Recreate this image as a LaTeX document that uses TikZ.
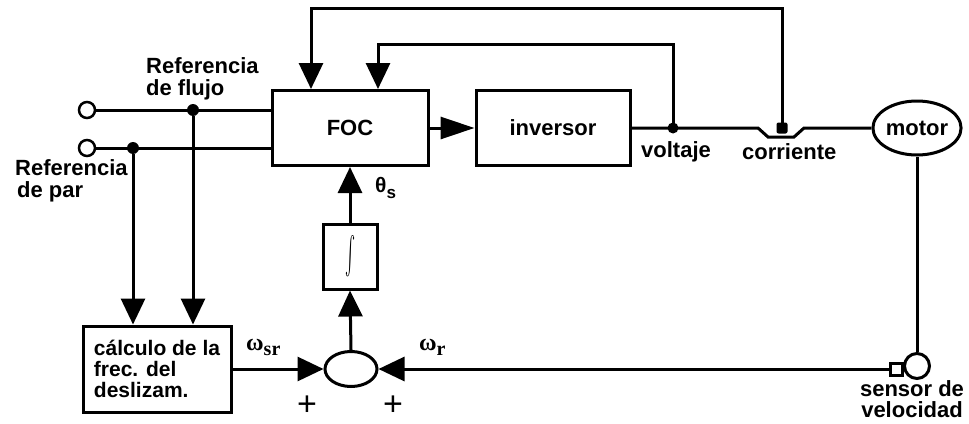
\documentclass[tikz,border=0pt]{standalone}
\usepackage{fontspec}
\usepackage{graphicx}
\setmainfont{Liberation Sans}
\newfontfamily\grkserif{Liberation Serif}
\usetikzlibrary{arrows.meta,calc,shapes.geometric}
\begin{document}
\begin{tikzpicture}[x=1pt,y=-1pt,
  every node/.style={font=\fontsize{22}{22}\selectfont\bfseries},
  ln/.style={line width=3pt},
  arr/.style={ln,-{Triangle[length=26pt,width=24pt]}},
  blk/.style={draw,ln,rectangle,inner sep=0pt},
  dotc/.style={circle,fill,inner sep=0pt,minimum size=12pt},
  term/.style={circle,draw,line width=2.5pt,fill=white,inner sep=0pt,minimum size=16pt},
  lbl/.style={inner sep=0pt,anchor=base west},
  omg/.style={inner sep=0pt,anchor=base west,font=\fontsize{24}{24}\selectfont\grkserif\bfseries},
  plus/.style={inner sep=0pt,font=\fontsize{34}{34}\selectfont\mdseries},
]
\useasboundingbox (0,0) rectangle (969,423);

% blocks
\node[blk,minimum width=156pt,minimum height=75pt] (foc) at (350,128) {FOC};
\node[blk,minimum width=154pt,minimum height=75pt] (inv) at (553,128) {inversor};
\node[draw,ln,ellipse,inner sep=0pt,minimum width=76pt,minimum height=54pt] (mot) at (917,128) {motor};
\node[blk,minimum width=148pt,minimum height=86pt,align=left,font=\fontsize{21}{21}\selectfont\bfseries] (calc) at (157,369) {cálculo de la\\frec. del\\deslizam.};
\node[blk,minimum width=54pt,minimum height=65pt] (integ) at (350,256.5) {\resizebox{10pt}{40pt}{$\int$}};
\node[draw,ln,ellipse,inner sep=0pt,minimum width=52pt,minimum height=35pt] (sum) at (351,369) {};
\node[draw,ln,circle,inner sep=0pt,minimum size=25pt] (sen) at (917,366) {};
\node[draw,ln,rectangle,inner sep=0pt,minimum width=12pt,minimum height=12pt,anchor=east] (sq) at ($(sen.west |- 0,369)+(1,0)$) {};

% terminals and junctions
\node[term] (in1) at (87,110) {};
\node[term] (in2) at (87,148) {};
\node[dotc] (df) at (193,110) {};
\node[dotc] (dp) at (133,148) {};
\node[dotc,minimum size=11pt] (dv) at (673,128) {};
\node[fill,inner sep=0pt,minimum size=11pt,rounded corners=2pt] (dc) at (782,128) {};

\coordinate (t1) at (311,8);
\coordinate (t2) at (378,44);
\coordinate (h1) at (758,128);
\coordinate (h2) at (768,137);
\coordinate (h3) at (794,137);
\coordinate (h4) at (804,128);

% connectors
\draw[ln] (in1) -- (df.center) -- (df.center -| foc.west);
\draw[ln] (in2) -- (dp.center) -- (dp.center -| foc.west);
\draw[arr] (df) -- (df |- calc.north);
\draw[arr] (dp) -- (dp |- calc.north);
\draw[arr] (dc.center) |- (t1) -- (t1 |- foc.north);
\draw[arr] (dv.center) |- (t2) -- (t2 |- foc.north);
\draw[ln,-{Triangle[length=34pt,width=22pt]}] (foc) -- (inv);
\draw[ln] (inv.east) -- (dv.center) -- (h1) -- (h2) -- (h3) -- (h4) -- (mot.west);
\draw[ln] (mot.south) -- (sen.north);
\draw[arr] (sq.west) -- (sum.east);
\draw[arr] (calc.east) -- (sum.west);
\draw[arr] (sum.north) -- (integ.south);
\draw[arr] (integ.north) -- (foc.south);

% labels
\node[lbl] (lf1) at (146,73) {Referencia};
\node[lbl] (lf2) at (146,95) {de flujo};
\node[lbl] (lp1) at (15,175) {Referencia};
\node[lbl] (lp2) at (17,197) {de par};
\node[lbl] (lv) at (641,157) {voltaje};
\node[lbl] (lc) at (742,159) {corriente};
\node[inner sep=0pt,anchor=base] (ls1) at (912,396) {sensor de};
\node[inner sep=0pt,anchor=base] (ls2) at (912,417) {velocidad};
\node[lbl,font=\fontsize{21}{21}\selectfont\bfseries] (lth) at (375,192) {θ\raisebox{-6pt}{\fontsize{17}{17}\selectfont s}};
\node[omg] (lwsr) at (246,350) {ω\raisebox{-5pt}{\fontsize{20}{20}\selectfont sr}};
\node[omg] (lwr) at (419,350) {ω\raisebox{-5pt}{\fontsize{20}{20}\selectfont r}};
\node[plus] (p1) at (307,406) {+};
\node[plus] (p2) at (393,406) {+};
\end{tikzpicture}
\end{document}
